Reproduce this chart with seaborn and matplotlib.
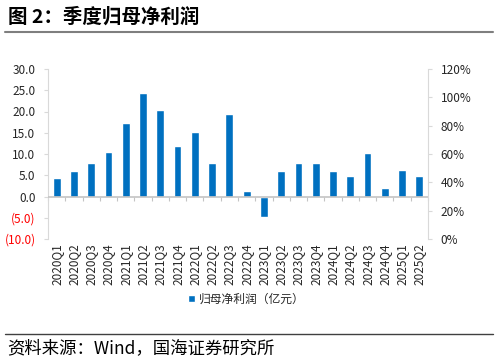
import matplotlib
matplotlib.use("Agg")
import matplotlib.pyplot as plt
import seaborn as sns
import numpy as np
import pandas as pd

quarters = ["2020Q1","2020Q2","2020Q3","2020Q4","2021Q1","2021Q2","2021Q3","2021Q4",
            "2022Q1","2022Q2","2022Q3","2022Q4","2023Q1","2023Q2","2023Q3","2023Q4",
            "2024Q1","2024Q2","2024Q3","2024Q4","2025Q1","2025Q2"]
profit = [4.4, 5.9, 8.0, 10.5, 17.2, 24.3, 20.4, 11.8,
          15.1, 8.0, 19.4, 1.4, -4.8, 6.1, 8.0, 8.0,
          5.9, 4.9, 10.2, 2.0, 6.2, 4.9]
left_ticks = [-10, -5, 0, 5, 10, 15, 20, 25, 30]
right_ticks = [0, 20, 40, 60, 80, 100, 120]
series_name = "归母净利润（亿元）"

sns.set_theme(style="white")
plt.rcParams['font.family'] = ['Noto Sans CJK SC', 'DejaVu Sans']

BLUE = "#0070C0"
GRAY = "#D9D9D9"
ZGRAY = "#C4C4C4"
TXT = "#262626"

df = pd.DataFrame({"q": quarters, "v": profit})

fig = plt.figure(figsize=(4.98, 3.62), dpi=100)
ax = fig.add_axes([48/498, 1-239/362, 380/498, 170/362])
sns.barplot(data=df, x="q", y="v", color=BLUE, width=0.45, ax=ax,
            saturation=1, label=series_name, zorder=2)
ax.axhline(0, color=ZGRAY, lw=1.2, zorder=3)
ax.set_xlim(-0.5, len(quarters)-0.5)
ax.set_ylim(-10, 30)
ax.set_yticks(left_ticks)
labs = [f"({abs(t):.1f})" if t < 0 else f"{t:.1f}" for t in left_ticks]
ax.set_yticklabels(labs, fontsize=8.5)
for t, lab in zip(left_ticks, ax.get_yticklabels()):
    lab.set_color("#FF0000" if t < 0 else TXT)
ax.set_xlabel("")
ax.set_ylabel("")
ax.tick_params(axis="x", length=0, pad=3, labelsize=8.5, labelcolor=TXT, rotation=90)
ax.tick_params(axis="y", length=3, width=0.8, color=GRAY, direction="out", pad=6)
for s in ["top", "right", "bottom"]:
    ax.spines[s].set_visible(False)
ax.spines["left"].set_color(GRAY)
ax.spines["left"].set_linewidth(0.8)

# category separator ticks on the zero line
sec = ax.secondary_xaxis(0.25)
sec.set_xticks(np.arange(len(quarters)+1) - 0.5)
sec.set_xticklabels([])
sec.tick_params(length=3, width=0.8, color=ZGRAY, direction="out")
sec.spines["bottom"].set_visible(False)

ax2 = ax.twinx()
ax2.set_ylim(0, 120)
ax2.set_yticks(right_ticks)
ax2.set_yticklabels([f"{t}%" for t in right_ticks], fontsize=8.5, color=TXT)
ax2.tick_params(axis="y", length=3, width=0.8, color=GRAY, direction="out", pad=6)
for s in ["top", "left", "bottom"]:
    ax2.spines[s].set_visible(False)
ax2.spines["right"].set_color(GRAY)
ax2.spines["right"].set_linewidth(0.8)
ax2.grid(False)
ax.grid(False)

leg = ax.legend(loc="center", bbox_to_anchor=(246/498, 1-299/362),
                bbox_transform=fig.transFigure, frameon=False, fontsize=8.5,
                handlelength=0.6, handleheight=0.6, handletextpad=0.3, labelcolor=TXT)

fig.text(8/498, 1-17/362, "图 2：季度归母净利润", fontsize=14, fontweight="bold",
         color="#000000", va="center", ha="left")
fig.add_artist(plt.Line2D([5/498, 493/498], [1-32/362, 1-32/362], color="#7F7F7F", lw=1.5))
fig.add_artist(plt.Line2D([5/498, 493/498], [1-334/362, 1-334/362], color="#404040", lw=1))
fig.text(7/498, 1-348/362, "资料来源：Wind，国海证券研究所", fontsize=12.5,
         color="#000000", va="center", ha="left")

fig.savefig("out.png", dpi=100)
